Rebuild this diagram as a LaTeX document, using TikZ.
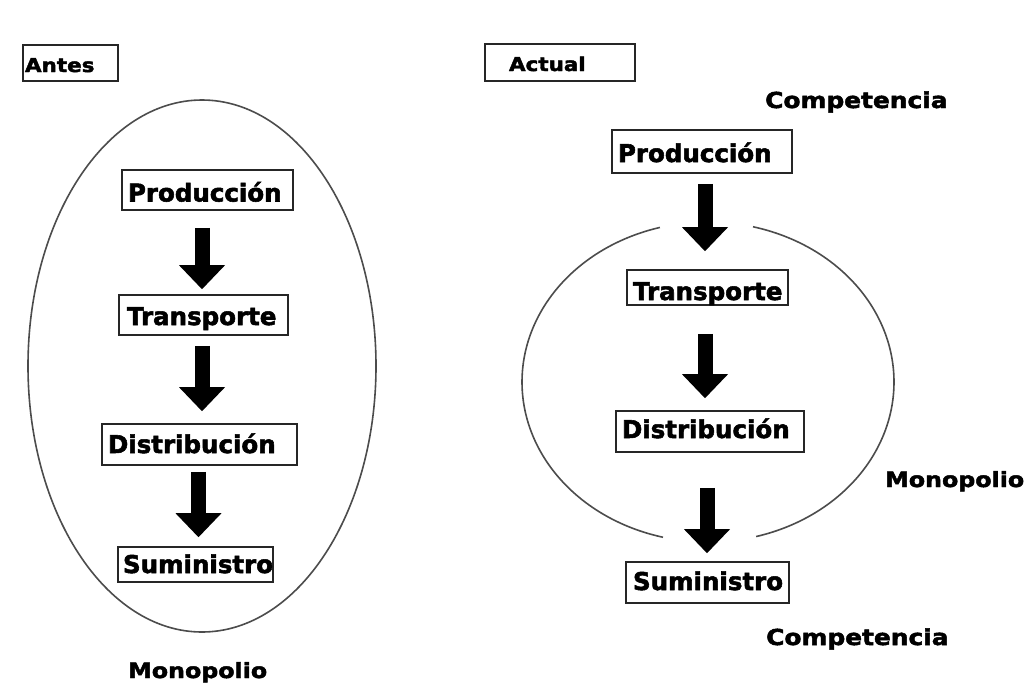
\documentclass[tikz,border=0pt]{standalone}
\usepackage{fontspec}
\setmainfont{DejaVu Sans}[BoldFeatures={FakeBold=2.2}]
\newfontfamily\lblfont{DejaVu Sans}[FakeStretch=1.13,BoldFeatures={FakeBold=2.2}]
\usetikzlibrary{arrows.meta}
\begin{document}
\begin{tikzpicture}[x=1pt,y=-1pt,
  box/.style={draw=black!85, line width=1.6pt, fill=white, inner xsep=0pt, inner ysep=0pt,
    font=\fontsize{24.5}{28}\selectfont\bfseries, text depth=0pt},
  tagbox/.style={box, font=\lblfont\fontsize{19}{22}\selectfont\bfseries},
  lbl/.style={font=\lblfont\fontsize{22}{26}\selectfont\bfseries, inner sep=0pt, anchor=base west},
  barrow/.style={line width=15pt, black, -{Triangle[width=46pt,length=24pt,line width=0pt]}},
  ring/.style={draw=black!70, line width=1.6pt}]
\fill[white] (0,0) rectangle (1028,686);
\useasboundingbox (0,0) rectangle (1028,686);

% ---- left: Antes ----
\draw[ring] (202,366) ellipse [x radius=174, y radius=266];
\node[tagbox, minimum width=95pt, minimum height=36pt, text height=18pt] (antes) at (70.5,63) {\makebox[91pt][l]{Antes}};
\node[box, minimum width=171pt, minimum height=40pt, text height=23pt] (P1) at (207.5,190) {\makebox[159pt][l]{Producción}};
\node[box, minimum width=169pt, minimum height=40pt, text height=20pt] (T1) at (203.5,315) {\makebox[153pt][l]{Transporte}};
\node[box, minimum width=195pt, minimum height=41pt, text height=17pt] (D1) at (199.5,444.5) {\makebox[183pt][l]{Distribución}};
\node[box, minimum width=155pt, minimum height=35pt, text height=17pt] (S1) at (195.5,564.5) {\makebox[145pt][l]{Suministro}};
\draw[barrow, shorten <=17pt, shorten >=5pt] (202,0 |- P1.south) -- (202,0 |- T1.north);
\draw[barrow, shorten <=10pt, shorten >=12pt] (202,0 |- T1.south) -- (202,0 |- D1.north);
\draw[barrow, shorten <=6pt, shorten >=9pt] (198.5,0 |- D1.south) -- (198.5,0 |- S1.north);
\node[lbl, font=\lblfont\fontsize{21}{25}\selectfont\bfseries] (mono1) at (128,678) {Monopolio};

% ---- right: Actual ----
\draw[ring] plot[domain=-76:75, samples=80, smooth] ({708+186*cos(\x)}, {382+160*sin(\x)});
\draw[ring] plot[domain=104:255, samples=80, smooth] ({708+186*cos(\x)}, {382+160*sin(\x)});
\node[tagbox, minimum width=150pt, minimum height=37pt, text height=17pt] (actual) at (560,62.5) {\makebox[102pt][l]{Actual}};
\node[box, minimum width=180pt, minimum height=43pt, text height=21pt] (P2) at (702,151.5) {\makebox[168pt][l]{Producción}};
\node[box, minimum width=161pt, minimum height=35pt, text height=25pt] (T2) at (707.5,287.5) {\makebox[149pt][l]{Transporte}};
\node[box, minimum width=188pt, minimum height=41pt, text height=13pt] (D2) at (710,431.5) {\makebox[176pt][l]{Distribución}};
\node[box, minimum width=163pt, minimum height=41pt, text height=15pt] (S2) at (707.5,582.5) {\makebox[149pt][l]{Suministro}};
\draw[barrow, shorten <=10pt, shorten >=18pt] (705,0 |- P2.south) -- (705,0 |- T2.north);
\draw[barrow, shorten <=28pt, shorten >=12pt] (705,0 |- T2.south) -- (705,0 |- D2.north);
\draw[barrow, shorten <=35pt, shorten >=8pt] (707,0 |- D2.south) -- (707,0 |- S2.north);
\node[lbl] (comp1) at (765,108) {Competencia};
\node[lbl, font=\lblfont\fontsize{21}{25}\selectfont\bfseries] (mono2) at (885,487) {Monopolio};
\node[lbl] (comp2) at (766,645) {Competencia};
\end{tikzpicture}
\end{document}
